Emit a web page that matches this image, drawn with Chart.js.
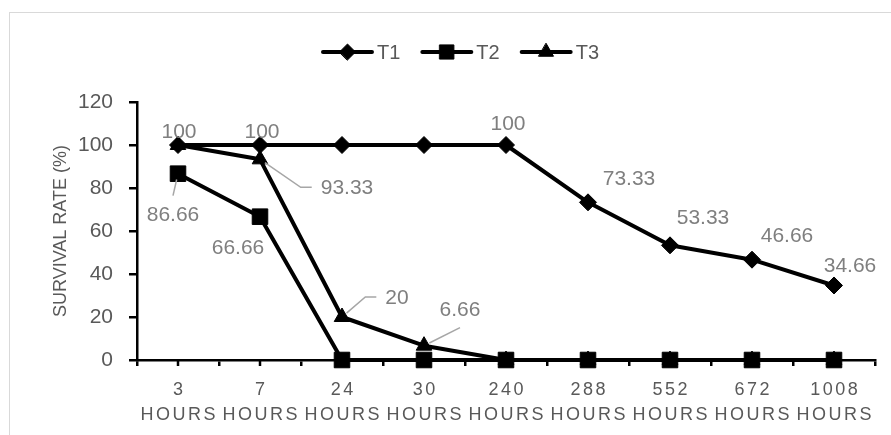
<!DOCTYPE html>
<html>
<head>
<meta charset="utf-8">
<script src="https://cdn.jsdelivr.net/npm/chart.js@4/dist/chart.umd.min.js"></script>
<style>
  html, body { margin: 0; padding: 0; background: #fff; overflow: hidden; }
  #frame { position: absolute; left: 9px; top: 12px; width: 1000px; height: 600px; border: 1.5px solid #d9d9d9; }
  #wrap { position: absolute; left: 0; top: 0; width: 891px; height: 435px; }
</style>
</head>
<body>
<div id="frame"></div>
<div id="wrap"><canvas id="c" width="891" height="435"></canvas></div>
<script>
// Survival over time for three treatments
const categories = ['3', '7', '24', '30', '240', '288', '552', '672', '1008'];
const unitLabel = 'HOURS';
const seriesNames = ['T1', 'T2', 'T3'];
const t1Values = [100, 100, 100, 100, 100, 73.33, 53.33, 46.66, 34.66];
const t2Values = [86.66, 66.66, 0, 0, 0, 0, 0, 0, 0];
const t3Values = [100, 93.33, 20, 6.66, 0, 0, 0, 0, 0];
const yTickValues = [0, 20, 40, 60, 80, 100, 120];
const yTitle = 'SURVIVAL RATE (%)';

// Value label placement per point: [dx, dy, leader] relative to the point, null = no label
const t1LabelSpots = [[1, -14], [2, -14], null, null, [2, -22], [41, -24], [33, -28], [35, -24], [16, -20]];
const t2LabelSpots = [[-5, 41, 'v'], [-22, 31], null, null, null, null, null, null, null];
const t3LabelSpots = [null, [87, 28, 'side'], [55, -20, 'side'], [36, -36, 'v'], null, null, null, null, null];

const FONT = '"Liberation Sans", Arial, sans-serif';
const TEXT_DARK = '#595959';
const TEXT_LIGHT = '#7f7f7f';
const LETTER_SPACING = 2.5;

function drawMarker(ctx, style, r, x, y) {
  ctx.beginPath();
  if (style === 'rectRot') {
    ctx.moveTo(x - r, y); ctx.lineTo(x, y - r); ctx.lineTo(x + r, y); ctx.lineTo(x, y + r);
  } else if (style === 'rect') {
    const s = r * Math.SQRT1_2;
    ctx.rect(x - s, y - s, 2 * s, 2 * s);
  } else {
    let a = 0;
    ctx.moveTo(x + Math.sin(a) * r, y - Math.cos(a) * r);
    a += 2 * Math.PI / 3; ctx.lineTo(x + Math.sin(a) * r, y - Math.cos(a) * r);
    a += 2 * Math.PI / 3; ctx.lineTo(x + Math.sin(a) * r, y - Math.cos(a) * r);
  }
  ctx.closePath();
  ctx.fillStyle = '#000';
  ctx.fill();
  ctx.lineWidth = 1;
  ctx.strokeStyle = '#000';
  ctx.stroke();
}

// Legend: a short line through each series marker, followed by its name
const lineLegend = {
  id: 'lineLegend',
  afterDraw(chart) {
    const ctx = chart.ctx;
    ctx.save();
    ctx.font = '20px ' + FONT;
    const lineLen = 53, gap = 3, itemGap = 20, cy = 52, centerX = 460;
    const items = chart.data.datasets.map(ds => ({ ds, w: ctx.measureText(ds.label).width }));
    const total = items.reduce((s, it) => s + lineLen + gap + it.w, 0) + itemGap * (items.length - 1);
    let x = centerX - total / 2;
    items.forEach(it => {
      ctx.strokeStyle = '#000';
      ctx.lineWidth = 4;
      ctx.lineCap = 'round';
      ctx.beginPath();
      ctx.moveTo(x + 2, cy);
      ctx.lineTo(x + lineLen - 2, cy);
      ctx.stroke();
      drawMarker(ctx, it.ds.pointStyle, it.ds.legendRadius, x + lineLen / 2, cy);
      ctx.fillStyle = TEXT_DARK;
      ctx.textAlign = 'left';
      ctx.textBaseline = 'middle';
      ctx.fillText(it.ds.label, x + lineLen + gap, cy + 1);
      x += lineLen + gap + it.w + itemGap;
    });
    ctx.restore();
  }
};

// Small tick marks under each category centre
const centerTicks = {
  id: 'centerTicks',
  beforeDatasetsDraw(chart) {
    const sx = chart.scales.x, ctx = chart.ctx;
    ctx.save();
    ctx.strokeStyle = '#000';
    ctx.lineWidth = 2.5;
    sx.ticks.forEach((t, i) => {
      const x = sx.getPixelForTick(i);
      ctx.beginPath();
      ctx.moveTo(x, sx.top);
      ctx.lineTo(x, sx.top + 6);
      ctx.stroke();
    });
    ctx.restore();
  }
};

// Spaced lettering on the category labels
const spacedLabels = {
  id: 'spacedLabels',
  beforeDraw(chart) {
    const sx = chart.scales.x;
    if (sx._spaced) return;
    const orig = sx.drawLabels;
    sx.drawLabels = function (area) {
      const ctx = this.ctx;
      ctx.save();
      ctx.letterSpacing = LETTER_SPACING + 'px';
      ctx.translate(LETTER_SPACING / 2, 0);
      orig.call(this, area);
      ctx.restore();
    };
    sx._spaced = true;
  }
};

// Value labels, some with leader lines back to their point
const valueLabels = {
  id: 'valueLabels',
  afterDatasetsDraw(chart) {
    const ctx = chart.ctx;
    ctx.save();
    ctx.font = '21px ' + FONT;
    ctx.textAlign = 'center';
    ctx.textBaseline = 'middle';
    chart.data.datasets.forEach((ds, di) => {
      const meta = chart.getDatasetMeta(di);
      ds.labelSpots.forEach((spot, i) => {
        if (!spot) return;
        const pt = meta.data[i];
        const px = pt.x, py = pt.y;
        const cx = px + spot[0], cy = py + spot[1];
        const text = String(ds.data[i]);
        const w = ctx.measureText(text).width, h = 16;
        if (spot[2]) {
          let pts;
          if (spot[2] === 'side') {
            const left = cx - w / 2;
            pts = [[left - 20, cy], [left - 9, cy]];
          } else {
            const ey = cy > py ? cy - h / 2 - 11 : cy + h / 2 + 10;
            pts = [[cx, ey]];
          }
          const dx = pts[0][0] - px, dy = pts[0][1] - py, d = Math.hypot(dx, dy);
          ctx.strokeStyle = '#a6a6a6';
          ctx.lineWidth = 1.5;
          ctx.beginPath();
          ctx.moveTo(px + dx / d * 6, py + dy / d * 6);
          pts.forEach(p => ctx.lineTo(p[0], p[1]));
          ctx.stroke();
        }
        ctx.fillStyle = TEXT_LIGHT;
        ctx.fillText(text, cx, cy + 1);
      });
    });
    ctx.restore();
  }
};

const seriesValues = [t1Values, t2Values, t3Values];
const seriesSpots = [t1LabelSpots, t2LabelSpots, t3LabelSpots];
const markerStyles = ['rectRot', 'rect', 'triangle'];
const markerRadii = [8.5, 11, 9];
const legendRadii = [8, 10, 8.5];

new Chart(document.getElementById('c'), {
  type: 'line',
  data: {
    labels: categories.map(c => [c, unitLabel]),
    datasets: seriesNames.map((name, i) => ({
      label: name,
      data: seriesValues[i],
      labelSpots: seriesSpots[i],
      legendRadius: legendRadii[i],
      clip: false,
      borderColor: '#000',
      backgroundColor: '#000',
      borderWidth: 4,
      borderJoinStyle: 'round',
      pointStyle: markerStyles[i],
      pointRadius: markerRadii[i],
      pointBackgroundColor: '#000',
      pointBorderColor: '#000',
      pointBorderWidth: 1,
      tension: 0
    }))
  },
  options: {
    responsive: false,
    animation: false,
    devicePixelRatio: 1,
    layout: { padding: { left: 0, right: 16, top: 102, bottom: 0 } },
    plugins: { legend: { display: false }, tooltip: { enabled: false } },
    scales: {
      x: {
        offset: true,
        grid: { offset: true, drawOnChartArea: false, drawTicks: true, tickLength: 6, color: '#000', lineWidth: 2.5 },
        border: { display: true, color: '#000', width: 2.5 },
        ticks: {
          autoSkip: false, maxRotation: 0, minRotation: 0, padding: 12,
          color: TEXT_DARK, font: { family: FONT, size: 18, lineHeight: 1.38 }
        },
        afterFit(scale) { scale.height = 75; }
      },
      y: {
        min: 0, max: 120,
        afterBuildTicks(scale) { scale.ticks = yTickValues.map(v => ({ value: v })); },
        grid: { drawOnChartArea: false, drawTicks: true, tickLength: 8, color: '#000', lineWidth: 2.5 },
        border: { display: true, color: '#000', width: 2.5 },
        ticks: { padding: 16, color: TEXT_DARK, font: { family: FONT, size: 21 } },
        title: { display: true, text: yTitle, color: TEXT_DARK, font: { family: FONT, size: 18 }, padding: { top: 50, bottom: 0 } },
        afterFit(scale) { scale.width = 137; }
      }
    }
  },
  plugins: [spacedLabels, centerTicks, valueLabels, lineLegend]
});
</script>
</body>
</html>
